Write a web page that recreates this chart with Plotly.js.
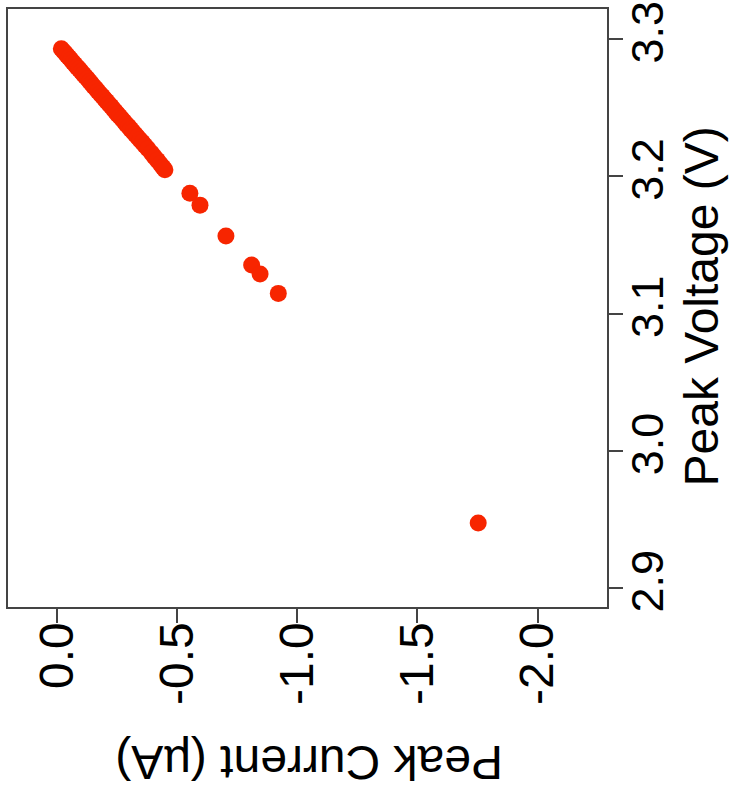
<!DOCTYPE html>
<html>
<head>
<meta charset="utf-8">
<script src="https://cdn.plot.ly/plotly-3.0.1.min.js"></script>
<style>body{margin:0;padding:0;background:#fff}#chart{width:729px;height:797px}</style>
</head>
<body>
<div id="chart"></div>
<script>
// Peak current (µA) and peak voltage (V)
var peakCurrent = [-0.018,-0.026,-0.034,-0.042,-0.050,-0.058,-0.067,-0.075,-0.084,-0.092,
  -0.101,-0.110,-0.118,-0.127,-0.136,-0.144,-0.153,-0.162,-0.171,-0.180,
  -0.189,-0.198,-0.207,-0.216,-0.225,-0.234,-0.243,-0.252,-0.261,-0.270,
  -0.280,-0.289,-0.298,-0.307,-0.316,-0.326,-0.335,-0.345,-0.355,-0.366,
  -0.378,-0.393,-0.405,-0.418,-0.430,-0.441,-0.449,
  -0.553,-0.595,-0.703,-0.810,-0.845,-0.921,-1.753];
var peakVoltage = [3.2930,3.2913,3.2898,3.2880,3.2866,3.2849,3.2830,3.2815,3.2795,3.2781,
  3.2762,3.2744,3.2727,3.2710,3.2690,3.2675,3.2655,3.2638,3.2618,3.2600,
  3.2583,3.2563,3.2546,3.2527,3.2510,3.2490,3.2473,3.2453,3.2436,3.2417,
  3.2398,3.2378,3.2362,3.2342,3.2325,3.2305,3.2287,3.2266,3.2248,3.2225,
  3.2201,3.2170,3.2143,3.2117,3.2090,3.2066,3.2048,
  3.1876,3.1790,3.1565,3.1353,3.1288,3.1147,2.9474];
var xTickVals = [0, -0.5, -1, -1.5, -2];
var xTickText = ['0.0', '-0.5', '-1.0', '-1.5', '-2.0'];
var yTickVals = [2.9, 3.0, 3.1, 3.2, 3.3];
var yTickText = ['2.9', '3.0', '3.1', '3.2', '3.3'];
var xTitle = 'Peak Current (\u00b5A)';
var yTitle = 'Peak Voltage (V)';

var font = 'Liberation Sans, Arial, Helvetica, sans-serif';
var axisColor = '#444';
var fs = 48;

var trace = {
  x: peakCurrent, y: peakVoltage, type: 'scatter', mode: 'markers',
  marker: {size: 17, color: '#f72500', line: {width: 0}},
  hoverinfo: 'skip'
};

var layout = {
  width: 729, height: 797,
  margin: {l: 8, r: 122, t: 9, b: 190, pad: 0},
  paper_bgcolor: '#fff', plot_bgcolor: '#fff',
  showlegend: false,
  font: {family: font, size: fs, color: '#000'},
  xaxis: {
    range: [0.204, -2.289], autorange: false,
    tickvals: xTickVals, ticktext: xTickText, tickangle: -90,
    ticks: 'outside', ticklen: 14, tickwidth: 2, tickcolor: axisColor,
    ticklabelstandoff: -20, ticklabeloverflow: 'allow',
    showline: true, mirror: true, linecolor: axisColor, linewidth: 2,
    showgrid: false, zeroline: false,
    tickfont: {family: font, size: fs, color: '#000'}
  },
  yaxis: {
    range: [2.8862, 3.3219], autorange: false, side: 'right',
    tickvals: yTickVals, ticktext: yTickText, tickangle: -90,
    ticks: 'outside', ticklen: 14, tickwidth: 2, tickcolor: axisColor,
    ticklabelstandoff: -14, ticklabeloverflow: 'allow',
    showline: true, mirror: true, linecolor: axisColor, linewidth: 2,
    showgrid: false, zeroline: false,
    tickfont: {family: font, size: 45, color: '#000'}
  },
  annotations: [
    {text: xTitle, xref: 'paper', yref: 'paper', x: 0.5025, y: -0.261,
     xanchor: 'center', yanchor: 'middle', textangle: 180, showarrow: false,
     font: {family: font, size: fs, color: '#000'}},
    {text: yTitle, xref: 'paper', yref: 'paper', x: 1.158, y: 0.502,
     xanchor: 'center', yanchor: 'middle', textangle: -90, showarrow: false,
     font: {family: font, size: fs, color: '#000'}}
  ]
};

Plotly.newPlot('chart', [trace], layout, {displayModeBar: false, staticPlot: true});
</script>
</body>
</html>
